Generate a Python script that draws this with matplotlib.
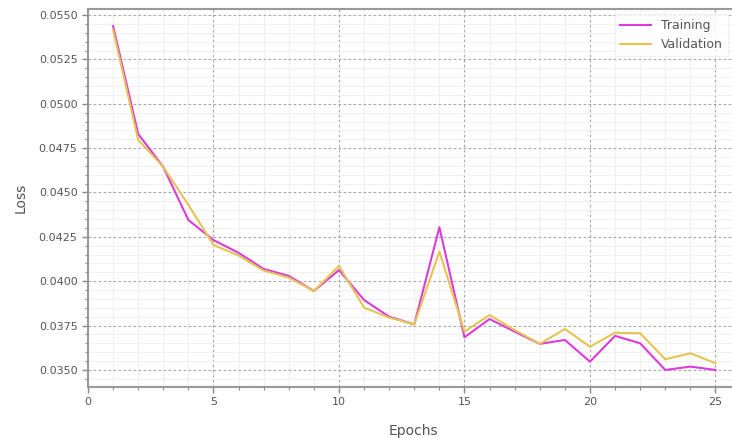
import matplotlib
matplotlib.use("Agg")
import matplotlib.pyplot as plt
from matplotlib.ticker import MultipleLocator, FormatStrFormatter

epochs = list(range(1, 26))
training = [0.05438, 0.04830, 0.04644, 0.04345, 0.04232, 0.04160, 0.04069, 0.04030, 0.03945,
            0.04063, 0.03894, 0.03800, 0.03757, 0.04304, 0.03684, 0.03787, 0.03716, 0.03647,
            0.03669, 0.03547, 0.03692, 0.03650, 0.03500, 0.03519, 0.03500]
validation = [0.05416, 0.04796, 0.04644, 0.04430, 0.04204, 0.04145, 0.04060, 0.04020, 0.03945,
              0.04086, 0.03851, 0.03795, 0.03757, 0.04167, 0.03716, 0.03810, 0.03725, 0.03647,
              0.03731, 0.03631, 0.03710, 0.03707, 0.03560, 0.03594, 0.03538]

gray = "#555555"
fig = plt.figure(figsize=(7.32, 4.38), dpi=100)
ax = fig.add_axes([88/732, 1-387/438, 1-88/732+0.01, (387-9)/438])

ax.plot(epochs, training, color="#db3bdb", lw=1.5, label="Training")
ax.plot(epochs, validation, color="#e6c452", lw=1.5, label="Validation")

ax.set_xlim(0, 25.95)
ax.set_ylim(0.03404, 0.05534)
ax.xaxis.set_major_locator(MultipleLocator(5))
ax.xaxis.set_minor_locator(MultipleLocator(1))
ax.yaxis.set_major_locator(MultipleLocator(0.0025))
ax.yaxis.set_minor_locator(MultipleLocator(0.0005))
ax.yaxis.set_major_formatter(FormatStrFormatter("%.4f"))

ax.grid(which="major", linestyle=(0, (2.5, 2)), color="#a8a8a8", lw=0.8)
ax.grid(which="minor", linestyle="-", color="#f0f0f0", lw=0.8)
ax.set_axisbelow(True)

for s in ["left", "bottom", "top"]:
    ax.spines[s].set_color("#999999")
    ax.spines[s].set_linewidth(1.5)
ax.spines["right"].set_visible(False)

ax.tick_params(which="major", colors="#888888", labelcolor=gray, labelsize=8, length=4, width=1)
ax.tick_params(which="minor", colors="#888888", length=2, width=0.8)

ax.set_xlabel("Epochs", color=gray, fontsize=10, labelpad=12)
ax.set_ylabel("Loss", color=gray, fontsize=10, labelpad=8)

leg = ax.legend(loc="upper right", bbox_to_anchor=(1.0 - 0.01, 1.0), fontsize=9,
                frameon=True, fancybox=False, edgecolor="#eeeeee", labelcolor=gray,
                handlelength=2.5, borderaxespad=0.4)
leg.get_frame().set_linewidth(0.8)

fig.savefig("out.png", dpi=100)
